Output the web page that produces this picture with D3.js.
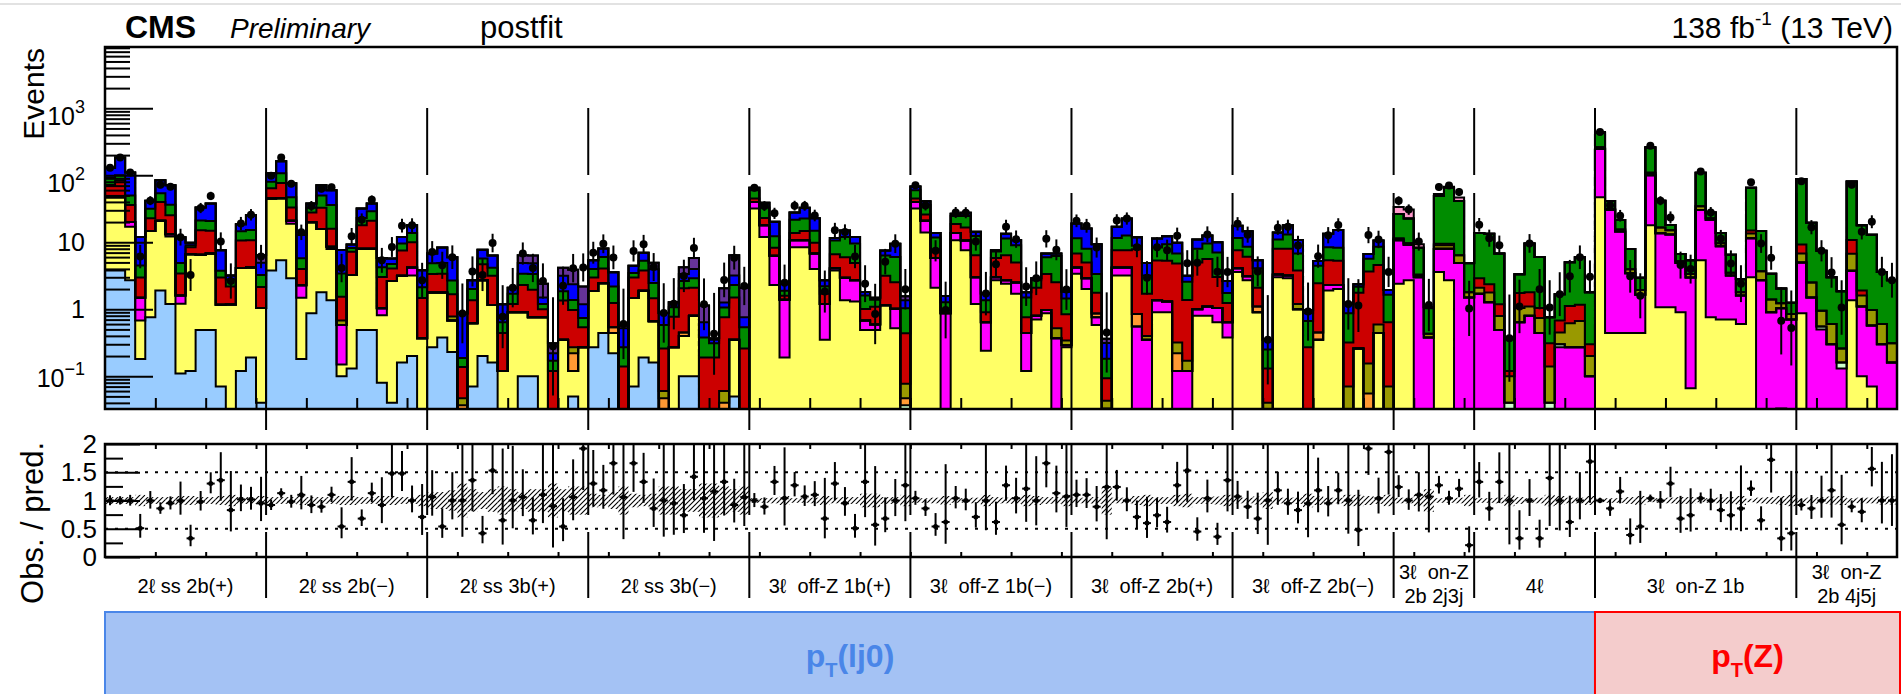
<!DOCTYPE html>
<html>
<head>
<meta charset="utf-8">
<script src="https://cdn.jsdelivr.net/npm/d3@7"></script>
<style>
  body { margin: 0; background: #fff; }
  text { font-family: "Liberation Sans", Arial, Helvetica, sans-serif; }
</style>
</head>
<body>
<div id="chart"></div>
<script>
// ---- categories (bins per category and labels) ----
const binCounts = [16, 16, 16, 16, 16, 16, 16, 16, 8, 12, 20, 10];
const categoryLabels = [
  ["2ℓ ss 2b(+)"], ["2ℓ ss 2b(−)"], ["2ℓ ss 3b(+)"], ["2ℓ ss 3b(−)"],
  ["3ℓ  off-Z 1b(+)"], ["3ℓ  off-Z 1b(−)"], ["3ℓ  off-Z 2b(+)"], ["3ℓ  off-Z 2b(−)"],
  ["3ℓ  on-Z", "2b 2j3j"], ["4ℓ"], ["3ℓ  on-Z 1b"], ["3ℓ  on-Z", "2b 4j5j"]
];
const none = n => new Array(n).fill(0);

// ---- stacked postfit yields, one array per process, per category ----
const lightBlue = [
  [3.8,3.8,2.7,.18,.76,1.9,1.2,.11,.12,.49,.49,.07,.03,.12,.19,.04],
  [3.8,5.4,2.9,.18,.87,1.8,1.36,.1,.13,.49,.49,.08,.04,.16,.2,.03],
  [.27,.38,.23,0,.07,.2,.16,0,.03,.1,.1,.03,0,0,.05,0],
  [.27,.44,.22,0,.07,.19,.16,0,0,.1,.1,0,0,0,.05,0],
  none(16), none(16), none(16), none(16), none(8), none(12), none(20), none(10)
].flat();
const yellow = [
  [43,43,14.3,.5,14,19,11,1.1,6.5,6,6.3,1.1,1.15,4,4,1],
  [41,40,16,1.3,19,14,6.6,.05,3.1,7.5,7.5,.73,2.6,3,3,.34],
  [1.5,1.4,.45,0,.55,2.5,1,.12,.87,.8,.66,.73,0,.35,.07,.27],
  [1.6,2,.22,0,1.4,1.7,.5,0,.27,.3,.7,0,0,0,.3,0],
  [32,12,2.3,.19,8.4,8.4,4,.35,3.8,1.36,1.3,.49,.49,1.15,.52,0],
  [32,14,2.1,.03,10.7,7.6,1.2,.24,2.7,2.4,1.7,.12,.7,.87,0,.27],
  [3.4,2,.58,0,3.2,3.2,0,0,.9,.9,0,0,.8,.8,.64,.38],
  [3.6,2.7,.9,0,3,2.9,1,0,.35,1.9,2,0,.26,0,.44,0],
  [2.4,2.7,0,0,3.6,2.7,0,0],
  none(12),
  [47,.44,.44,.44,.44,18,1.07,1.07,.9,.066,5.4,.76,.7,.7,.6,3,0,0,.033,0],
  [.87,0,0,0,.03,1.36,.1,.07,0,0]
].flat();
const magenta = [
  [0,0,3,.8,0,0,1,.4,0,0,0,0,0,0,0,0],
  [0,0,2,.8,0,0,.6,.43,0,0,0,.22,0,0,1,0],
  none(16), none(16),
  [8,6,4,1.2,2.3,2.3,2.8,.85,.3,1.6,1.4,.19,.1,0,.5,0],
  [8,7,3.7,.84,3,3,1.8,.4,.3,.3,.8,.32,.1,.1,.37,.02],
  [.8,.9,.18,0,1,1,.55,.35,.46,.4,.12,.12,.2,.3,.4,.26],
  [.5,.4,0,0,.3,.3,0,0,0,.4,.3,0,0,0,0,0],
  [8.3,6.5,3,.38,4.4,5.3,4.9,1.5],
  [1.7,1.27,.49,0,.64,.8,.44,0,.27,.27,.27,.1],
  [200,30,14,3,1.2,82,12.6,12,4,2.9,25,21,8,2.5,1,8.5,2.7,.9,1,.7],
  [4.1,1.5,.5,.3,.1,2.4,1,.5,.3,.16]
].flat();
const lightGreen = [
  none(16), none(16), none(16), none(16),
  [0,0,0,0,0,0,0,0,0,0,0,0,0,0,0,.037],
  none(16), none(16), none(16), none(8),
  [0,0,0,.04,0,0,0,.04,.03,0,0,0],
  none(20),
  [0,0,.05,0,.03,0,0,0,0,0]
].flat();
const orange = [
  none(16), none(16),
  [0,0,0,.037,0,0,0,0,0,0,0,0,0,0,.1,0],
  [0,0,.1,0,0,0,0,.047,0,.05,0,0,0,.04,0,0],
  [0,0,0,0,0,0,0,0,0,0,0,0,0,0,0,.01],
  none(16),
  [0,0,.1,.033,0,0,.3,0,0,0,.1,0,0,0,0,0],
  [0,0,.2,0,0,0,0,0,.1,0,0,.02,0,.055,0,.02],
  none(8), none(12), none(20), none(10)
].flat();
const olive = [
  none(16),
  [0,0,0,0,0,0,0,.1,0,0,0,0,0,0,0,0],
  [0,0,.1,.01,0,0,0,0,0,0,0,0,0,0,.05,0],
  [0,0,0,0,0,0,0,.013,0,0,0,0,0,.02,0,0],
  [0,0,0,0,0,0,0,0,0,0,0,0,0,0,0,.03],
  [0,0,0,0,0,0,0,0,0,0,0,0,0,0,.15,.05],
  [0,0,0,.01,0,0,0,.05,0,0,.1,.05,0,0,0,0],
  [0,0,0,.04,0,0,.2,.03,0,0,0,.05,0,.1,.15,.05],
  [.5,.5,.2,.05,1,1,1.5,.3],
  [.4,.5,.3,.06,.4,.3,.3,.1,.15,.35,.4,.1],
  [15,1,1,.5,.3,8,3,2,.3,.4,4,1,1,.3,.2,2,1,.5,.2,.15],
  [1.8,1,.4,.3,.1,3,.5,.4,.3,.15]
].flat();
const red = [
  [25,37,16,1.5,8,19,12,1.8,1.8,8.6,8,1.8,1,6.5,6.5,1.1],
  [19,31,12,1.7,8,17,7.4,.85,4,10,13,2,1.4,4.4,5.8,1.1],
  [1.6,1.6,.9,.09,.74,2,2,.32,.3,1.4,1.2,.24,.12,1,.7,.27],
  [1.1,1.6,.7,.14,1.5,1.9,.8,.2,.5,1.6,1.3,.19,.19,.7,1.15,.26],
  [5,5,2,.2,3,4,3,.5,2.5,3,2.2,.33,.5,2,1.5,.36],
  [5,5,2,.1,5,6,3.4,.26,2.8,3.7,2.5,.32,1.3,2.4,2,.5],
  [2.6,2.1,.9,.05,3.4,3.4,7,1.3,4,4,4.5,1.2,4,4.5,2,.6],
  [3.5,3,1,.09,4.7,4.8,2.6,.24,2,3.1,3,.25,1.5,3.5,4,.57],
  [.3,0,.1,0,.5,.5,0,0],
  [.8,.6,.4,.02,.7,.7,.3,.17,.23,.5,.5,.1],
  [0,0,0,0,0,2,0,0,0,0,0,0,0,0,0,1.5,0,0,0,0],
  [2.5,0,0,0,0,4,.3,0,0,0]
].flat();
const green = [
  [21,16,14,1.5,9,14,11,1.5,.6,6,6,.8,.6,4,4.5,1.1],
  [16,31,14,1.8,5,17,20,1.9,1,5,8,1.2,.7,2,3.7,.65],
  [1.5,1.5,1,.05,.64,1,1,.2,.5,1.1,1.4,.2,.05,.5,.4,.2],
  [1,2,.94,.13,.5,1.5,1,.32,.3,.6,.8,.19,.12,.3,.8,.28],
  [15,10,4,.3,8,8,5,.5,4,6,4.7,.6,.3,3.2,3.5,.6],
  [15,10,4,.3,6,8,6,.46,1.5,5,4,.74,.6,2.6,3.7,.6],
  [4.7,3,1.6,.09,4,5,1,1.5,3,4,2,1.2,3,4,4,.5],
  [4,2.5,2,.12,3,5,3,.4,2,3,3,.55,.4,2,4,1],
  [15,13,5,.6,40,56,35,3],
  [10.8,11,5.6,.25,1.6,7.8,5,.45,1,3.9,4.8,1.5],
  [170,10,6,4,1,150,25,3,1.5,2,75,5,4,3,1,50,11,2,.8,.4],
  [79,17,6.5,2.4,1.6,70,16,12,3,2.4]
].flat();
const blue = [
  [37,85,60,7.5,10,30,35,7,.8,12,17,3.8,.4,4,10,1.7],
  [27,55,29,7,5,21,24,4.2,1,9,9,1.6,1,2.4,4.3,1.7],
  [1.9,3.5,3.3,.68,.7,2,2.2,.55,.4,1.5,1.5,.3,.05,1.3,1,.45],
  [1.4,2,1.4,.25,1,1.7,1.5,.3,.2,.7,1.1,.26,.04,.2,.9,.22],
  [5,6,8,.5,6,10,8,.5,1,3,2.4,.2,.1,1.2,3.5,.33],
  [8,5,2,.3,2,3,2,.35,.3,2,1.7,.3,.2,.8,.6,.4],
  [7.5,8,6,.13,5.4,10,3,1.7,3,3,3,.6,3,3,3,.9],
  [6,6,1.3,.1,3,5,4,.2,.8,5,7,.33,.2,1,2,.3],
  [0,0,0,.05,0,0,0,.1],
  none(12), none(20), none(10)
].flat();
const purple = [
  [0,0,0,0,0,0,0,0,0,0,0,0,0,0,0,1.5],
  none(16),
  [0,0,0,0,0,0,0,0,0,1.5,1.5,.9,.09,1,1.5,1],
  [0,0,0,.05,0,0,1,0,0,.9,1.8,.5,.02,.8,3.2,1.34],
  [0,0,0,0,0,0,0,0,0,0,0,0,0,0,0,.2],
  none(16),
  [0,0,0,.05,0,0,0,0,0,0,0,0,0,0,0,0],
  [0,0,0,0,0,0,0,.1,0,0,0,0,0,0,0,0],
  none(8), none(12), none(20), none(10)
].flat();
const pink = [
  none(16), none(16), none(16), none(16), none(16), none(16), none(16), none(16),
  [7,8,1,0,3,2,5,0],
  none(12),
  [10,0,0,0,0,5,0,0,0,0,0,0,0,0,0,0,0,0,0,0],
  none(10)
].flat();

const ratio = [
  [1,1,1,.51,1,.86,.95,1,.33,.98,1.3,1.36,.83,1.02,1.02,.95],
  [.92,1.13,.98,1.1,.92,.89,1.1,.54,1.33,.68,1.13,.92,1.48,1.48,1,.71],
  [1.06,.54,1,1,1.36,.42,1.53,.65,1,1.06,.65,1.1,.9,.54,1.06,1.92],
  [1.3,1.18,1.66,1.06,1.66,1.33,.86,1,.95,.74,1.42,1.04,1.16,1.33,.92,1.06],
  [1,.89,1.33,1.04,1.27,1.07,1.1,.68,1.3,.95,.51,1.33,.57,.68,1,1.27],
  [1.04,.86,.54,.62,1.04,1,.71,1,.62,1.27,1.04,1.21,1,1.66,1.13,1.07],
  [1.1,1.1,.89,1.24,1.24,1,.71,.6,.74,.62,1.27,1.53,.45,1.04,.36,1.36],
  [1.07,.89,.68,1,1.18,.95,.83,.95,1.18,.95,1.18,1,.48,1.92,1.04,1.86],
  [1.24,1,1.1,1.07,1.27,1.04,1.21,.21],
  [1.33,.86,1.33,1,.33,1,.33,1.4,1,.62,1,1.69],
  [1,.86,1.16,.39,.54,1.04,1,1.3,.68,.74,1.04,1,.83,.74,.86,1.21,.65,1.72,.33,.42],
  [.92,.86,1,1.18,.57,.89,.8,1.56,1,1]
].flat();

// relative postfit uncertainty (hatched band)
const relUnc = [
  [.06,.06,.06,.1,.06,.06,.06,.08,.08,.06,.06,.08,.1,.06,.06,.08],
  [.06,.06,.06,.08,.06,.06,.06,.08,.08,.06,.06,.08,.08,.06,.06,.1],
  [.15,.15,.18,.3,.2,.15,.2,.25,.2,.15,.2,.2,.3,.2,.25,.25],
  [.12,.1,.15,.25,.12,.1,.12,.25,.25,.2,.2,.3,.3,.25,.2,.25],
  [.04,.04,.05,.08,.04,.04,.05,.08,.05,.06,.06,.12,.12,.06,.06,.1],
  [.04,.04,.05,.08,.04,.04,.05,.1,.06,.05,.06,.1,.08,.06,.06,.1],
  [.05,.05,.06,.25,.05,.05,.08,.1,.06,.06,.1,.12,.06,.06,.07,.1],
  [.05,.05,.07,.15,.05,.05,.06,.12,.08,.05,.05,.1,.1,.08,.06,.1],
  [.05,.05,.1,.2,.04,.04,.05,.1],
  [.04,.04,.05,.1,.06,.04,.05,.1,.08,.05,.05,.08],
  [.03,.04,.04,.06,.08,.03,.04,.05,.06,.06,.03,.04,.05,.06,.08,.03,.05,.06,.08,.1],
  [.04,.05,.06,.07,.08,.04,.05,.05,.07,.07]
].flat();

const yMajorTicks = [0.1, 1, 10, 100, 1000];
const yMajorLabels = [["10", "−1"], ["1", ""], ["10", ""], ["10", "2"], ["10", "3"]];
const ratioTicks = [0, 0.5, 1, 1.5, 2];
const ratioLabels = ["0", "0.5", "1", "1.5", "2"];

const series = [
  { name: "lightBlue", color: "#99ccff", values: lightBlue },
  { name: "yellow", color: "#ffff66", values: yellow },
  { name: "magenta", color: "#ff00ff", values: magenta },
  { name: "lightGreen", color: "#ccffcc", values: lightGreen },
  { name: "orange", color: "#ff9933", values: orange },
  { name: "olive", color: "#999900", values: olive },
  { name: "red", color: "#cc0000", values: red },
  { name: "green", color: "#008c00", values: green },
  { name: "blue", color: "#0000ff", values: blue },
  { name: "purple", color: "#663399", values: purple },
  { name: "pink", color: "#ff99cc", values: pink }
];

// ---- layout ----
const W = 1901, H = 694;
const left = 105, right = 1897;
const top0 = 47, top1 = 409;
const rat0 = 444, rat1 = 557;
const nBins = d3.sum(binCounts);
const yMin = 0.0324, yMax = 8220;

const x = d3.scaleLinear().domain([0, nBins]).range([left, right]);
const y = d3.scaleLog().domain([yMin, yMax]).range([top1, top0]);
const yr = d3.scaleLinear().domain([0, 2]).range([rat1, rat0]);
const yc = v => v <= yMin ? top1 : Math.max(top0, y(v));

const svg = d3.select("#chart").append("svg")
  .attr("width", W).attr("height", H);

const defs = svg.append("defs");
defs.append("pattern")
  .attr("id", "hatch").attr("patternUnits", "userSpaceOnUse")
  .attr("width", 5).attr("height", 5)
  .append("path")
  .attr("d", "M-1,1 l2,-2 M0,5 l5,-5 M4,6 l2,-2")
  .attr("stroke", "#000").attr("stroke-width", 1.1);
defs.append("clipPath").attr("id", "clipTop").append("rect")
  .attr("x", left).attr("y", top0).attr("width", right - left).attr("height", top1 - top0);
defs.append("clipPath").attr("id", "clipRat").append("rect")
  .attr("x", left).attr("y", rat0).attr("width", right - left).attr("height", rat1 - rat0);

// faint page border line at top
svg.append("line").attr("x1", 0).attr("x2", W).attr("y1", 4).attr("y2", 4)
  .attr("stroke", "#e2e2e2").attr("stroke-width", 2);

// ---- stack ----
const cum = [];
let run = new Array(nBins).fill(0);
series.forEach(s => {
  const prev = run;
  run = run.map((v, i) => v + s.values[i]);
  cum.push({ s, lo: prev, hi: run });
});
const total = run;

const stackG = svg.append("g").attr("clip-path", "url(#clipTop)");
cum.forEach(({ s, lo, hi }) => {
  const idx = d3.range(nBins).filter(i => s.values[i] > 0);
  stackG.append("g").selectAll("rect")
    .data(idx)
    .join("rect")
    .attr("x", i => x(i))
    .attr("width", i => x(i + 1) - x(i))
    .attr("y", i => yc(hi[i]))
    .attr("height", i => Math.max(0, yc(lo[i]) - yc(hi[i])))
    .attr("fill", s.color)
    .attr("shape-rendering", "crispEdges");
});

const step = d3.line().x(d => x(d[0])).y(d => yc(d[1])).curve(d3.curveStepAfter);
cum.forEach(({ hi }) => {
  const pts = [[0, yMin]].concat(hi.map((v, i) => [i, v]), [[nBins, hi[nBins - 1]], [nBins, yMin]]);
  stackG.append("path").attr("d", step(pts))
    .attr("fill", "none").attr("stroke", "#000").attr("stroke-width", 2);
});

// ---- observed data, top panel ----
const obs = ratio.map((r, i) => r * total[i]);
const errUp = obs.map(n => 0.5 + Math.sqrt(n + 0.25));
const errDn = obs.map(n => Math.sqrt(n + 0.25) - 0.5);
const dataG = svg.append("g").attr("clip-path", "url(#clipTop)");
const cx = i => (x(i) + x(i + 1)) / 2;
dataG.selectAll("line.err").data(d3.range(nBins)).join("line")
  .attr("x1", cx).attr("x2", cx)
  .attr("y1", i => yc(obs[i] + errUp[i]))
  .attr("y2", i => yc(Math.max(obs[i] - errDn[i], yMin)))
  .attr("stroke", "#000").attr("stroke-width", 2);
dataG.selectAll("circle").data(d3.range(nBins).filter(i => obs[i] > yMin)).join("circle")
  .attr("cx", cx).attr("cy", i => y(obs[i])).attr("r", 4).attr("fill", "#000");

// ---- top panel axes ----
const yMinor = [];
for (let d = -2; d <= 3; d++) for (let m = 2; m <= 9; m++) {
  const v = m * Math.pow(10, d);
  if (v > yMin && v < yMax) yMinor.push(v);
}
const styleAxis = g => {
  g.select(".domain").remove();
  g.selectAll(".tick line").attr("stroke", "#000").attr("stroke-width", 2);
};
svg.append("g").attr("transform", `translate(${left},0)`)
  .call(d3.axisLeft(y).tickValues(yMajorTicks).tickSize(-48).tickFormat(""))
  .call(styleAxis);
svg.append("g").attr("transform", `translate(${left},0)`)
  .call(d3.axisLeft(y).tickValues(yMinor).tickSize(-25).tickFormat(""))
  .call(styleAxis);
svg.append("g").attr("transform", `translate(0,${top1})`)
  .call(d3.axisBottom(x).tickValues(d3.range(5, nBins, 5)).tickSize(-11).tickFormat(""))
  .call(styleAxis);

const yLab = svg.append("g");
yMajorTicks.forEach((v, k) => {
  const [base, exp] = yMajorLabels[k];
  const off = exp === "" ? 9 : (exp.startsWith("−") ? 11 : 17);
  const t = yLab.append("text").attr("x", 85).attr("y", y(v) + off)
    .attr("text-anchor", "end").attr("font-size", 25).text(base);
  if (exp) t.append("tspan").attr("font-size", 18).attr("dy", -12).text(exp);
});

svg.append("text")
  .attr("transform", `translate(44,48) rotate(-90)`)
  .attr("text-anchor", "end").attr("font-size", 30).text("Events");

svg.append("rect").attr("x", left).attr("y", top0)
  .attr("width", right - left).attr("height", top1 - top0)
  .attr("fill", "none").attr("stroke", "#000").attr("stroke-width", 2.5);

// ---- ratio panel ----
const ratG = svg.append("g").attr("clip-path", "url(#clipRat)");
ratG.selectAll("rect.band").data(d3.range(nBins)).join("rect")
  .attr("x", i => x(i)).attr("width", i => x(i + 1) - x(i))
  .attr("y", i => yr(1 + relUnc[i]))
  .attr("height", i => yr(1 - relUnc[i]) - yr(1 + relUnc[i]))
  .attr("fill", "url(#hatch)");
[0.5, 1.5].forEach(v => {
  ratG.append("line").attr("x1", left).attr("x2", right)
    .attr("y1", yr(v)).attr("y2", yr(v))
    .attr("stroke", "#000").attr("stroke-width", 2).attr("stroke-dasharray", "3,7");
});
const rUp = d3.range(nBins).map(i => errUp[i] / total[i]);
const rDn = d3.range(nBins).map(i => errDn[i] / total[i]);
ratG.selectAll("line.rerr").data(d3.range(nBins)).join("line")
  .attr("x1", cx).attr("x2", cx)
  .attr("y1", i => yr(ratio[i] + rUp[i]))
  .attr("y2", i => yr(Math.max(0, ratio[i] - rDn[i])))
  .attr("stroke", "#000").attr("stroke-width", 2);
ratG.selectAll("line.rbar").data(d3.range(nBins)).join("line")
  .attr("x1", i => cx(i) - 4).attr("x2", i => cx(i) + 4)
  .attr("y1", i => yr(ratio[i])).attr("y2", i => yr(ratio[i]))
  .attr("stroke", "#000").attr("stroke-width", 2);
ratG.selectAll("circle").data(d3.range(nBins)).join("circle")
  .attr("cx", cx).attr("cy", i => yr(ratio[i])).attr("r", 2.5).attr("fill", "#000");

svg.append("g").attr("transform", `translate(${left},0)`)
  .call(d3.axisLeft(yr).tickValues(ratioTicks).tickSize(-35).tickFormat(""))
  .call(styleAxis);
svg.append("g").attr("transform", `translate(${left},0)`)
  .call(d3.axisLeft(yr).tickValues([0.25, 0.75, 1.25, 1.75]).tickSize(-18).tickFormat(""))
  .call(styleAxis);
svg.append("g").attr("transform", `translate(0,${rat1})`)
  .call(d3.axisBottom(x).tickValues(d3.range(5, nBins, 5)).tickSize(-5).tickFormat(""))
  .call(styleAxis);
svg.append("g").attr("transform", `translate(0,${rat0})`)
  .call(d3.axisTop(x).tickValues(d3.range(5, nBins, 5)).tickSize(-5).tickFormat(""))
  .call(styleAxis);

ratioTicks.forEach((v, k) => {
  svg.append("text").attr("x", 97).attr("y", yr(v) + 9)
    .attr("text-anchor", "end").attr("font-size", 26).text(ratioLabels[k]);
});
svg.append("text")
  .attr("transform", `translate(43,442) rotate(-90)`)
  .attr("text-anchor", "end").attr("font-size", 31).text("Obs. / pred.");

svg.append("rect").attr("x", left).attr("y", rat0)
  .attr("width", right - left).attr("height", rat1 - rat0)
  .attr("fill", "none").attr("stroke", "#000").attr("stroke-width", 2.5);

// ---- category dividers and labels ----
const edges = d3.cumsum(binCounts);
const starts = [0].concat(Array.from(edges).slice(0, -1));
const divG = svg.append("g").attr("stroke", "#000").attr("stroke-width", 2);
Array.from(edges).slice(0, -1).forEach(e => {
  [[108, 175], [193, 430], [444, 515], [532, 598]].forEach(([a, b]) => {
    divG.append("line").attr("x1", x(e)).attr("x2", x(e)).attr("y1", a).attr("y2", b);
  });
});
categoryLabels.forEach((lines, k) => {
  const xm = x(starts[k] + binCounts[k] / 2);
  const baseY = lines.length === 1 ? [593] : [579, 603];
  lines.forEach((ln, j) => {
    svg.append("text").attr("x", xm).attr("y", baseY[j])
      .attr("text-anchor", "middle").attr("font-size", 20)
      .style("white-space", "pre").text(ln);
  });
});

// ---- header ----
svg.append("text").attr("x", 125).attr("y", 38).attr("font-size", 32)
  .attr("font-weight", "bold").text("CMS");
svg.append("text").attr("x", 230).attr("y", 38).attr("font-size", 28)
  .attr("font-style", "italic").text("Preliminary");
svg.append("text").attr("x", 480).attr("y", 38).attr("font-size", 31).text("postfit");
const lumi = svg.append("text").attr("x", 1893).attr("y", 38)
  .attr("text-anchor", "end").attr("font-size", 30);
lumi.append("tspan").text("138 fb");
lumi.append("tspan").attr("font-size", 19).attr("dy", -13).text("-1");
lumi.append("tspan").attr("dy", 13).text(" (13 TeV)");

// ---- region bands ----
const split = x(edges[edges.length - 3]);
svg.append("rect").attr("x", left).attr("y", 612).attr("width", split - left).attr("height", 90)
  .attr("fill", "#a4c2f4").attr("stroke", "#4a86e8").attr("stroke-width", 2);
svg.append("rect").attr("x", split).attr("y", 612).attr("width", 1900 - split).attr("height", 90)
  .attr("fill", "#f4cccc").attr("stroke", "#ff0000").attr("stroke-width", 2);

function bandLabel(xm, color, arg) {
  const t = svg.append("text").attr("x", xm).attr("y", 667)
    .attr("text-anchor", "middle").attr("font-size", 32).attr("font-weight", "bold")
    .attr("fill", color);
  t.append("tspan").text("p");
  t.append("tspan").attr("font-size", 20).attr("dy", 10).text("T");
  t.append("tspan").attr("dy", -10).text(arg);
}
bandLabel((left + split) / 2, "#4a86e8", "(lj0)");
bandLabel((split + 1900) / 2, "#ff0000", "(Z)");
</script>
</body>
</html>
